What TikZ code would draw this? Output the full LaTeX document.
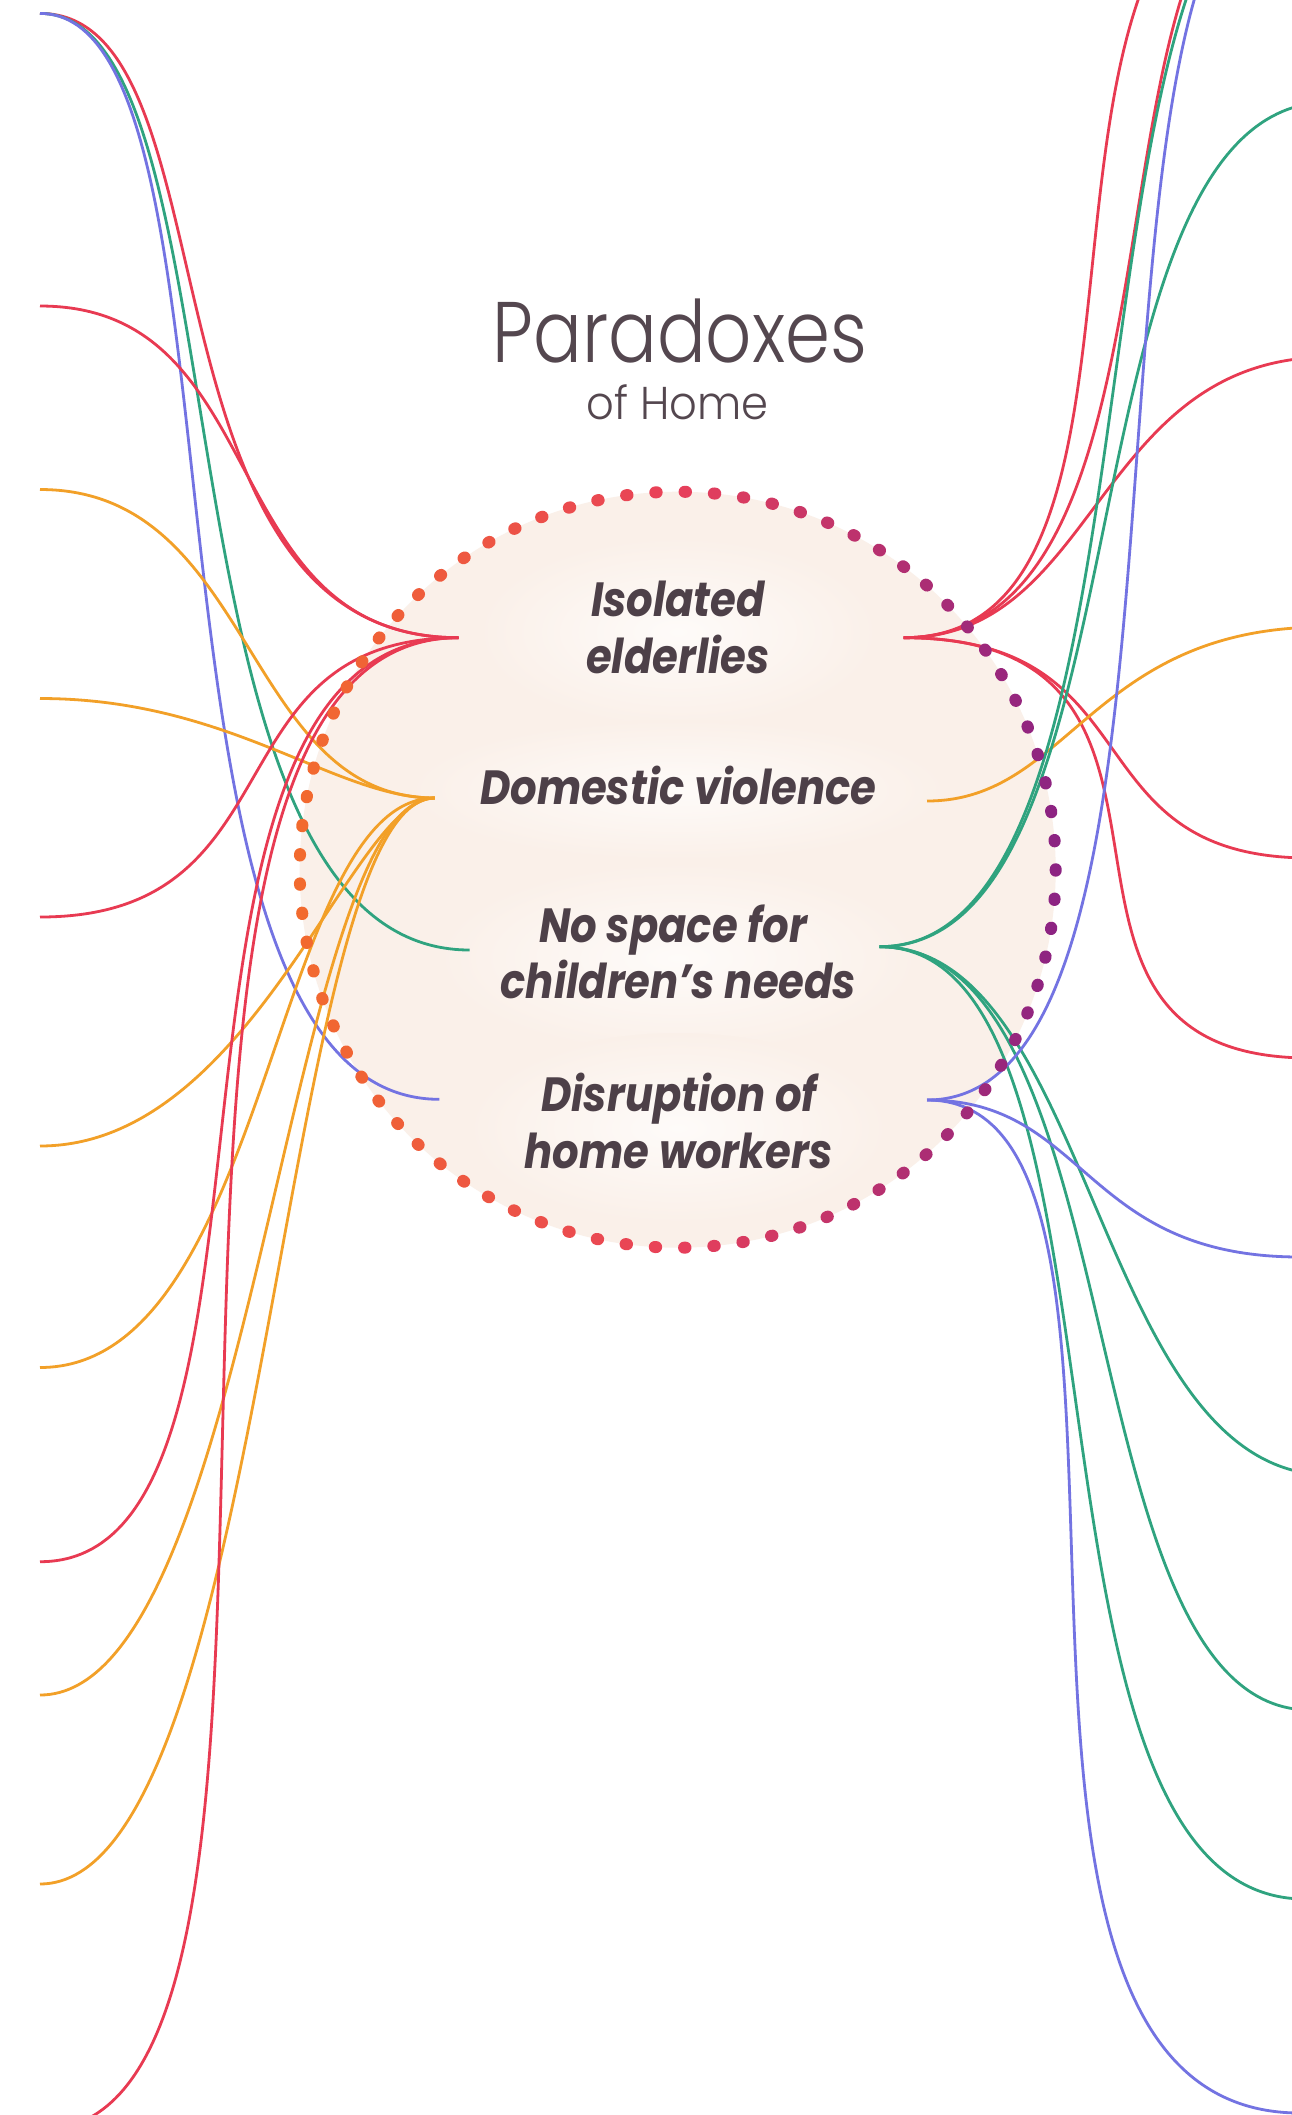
\documentclass[tikz,border=0pt]{standalone}
\usepackage{fontspec}
\newfontfamily\titlefont{Poppins Light}[FakeStretch=0.84]
\newfontfamily\subtitlefont{Poppins Light}[FakeStretch=0.94]
\newfontfamily\themefont{Poppins Bold Italic}[FakeStretch=0.87]
\definecolor{ink}{HTML}{4D4048}
\definecolor{titleink}{HTML}{54474F}
\definecolor{linkred}{HTML}{E83A52}
\definecolor{linkorange}{HTML}{F2A028}
\definecolor{linkgreen}{HTML}{2FA37F}
\definecolor{linkblue}{HTML}{7373E2}
\definecolor{circfill}{HTML}{FAF0E9}
\definecolor{halo}{HTML}{FEFBF9}
\definecolor{dotL}{HTML}{F26A2E}
\definecolor{dotM}{HTML}{E8405A}
\definecolor{dotR}{HTML}{8C2382}
\begin{document}
\begin{tikzpicture}[x=1pt,y=-1pt,
  link/.style={line width=2.8pt},
  redlink/.style={link,draw=linkred},
  orangelink/.style={link,draw=linkorange},
  greenlink/.style={link,draw=linkgreen},
  bluelink/.style={link,draw=linkblue},
  themetext/.style={font=\themefont\fontsize{48}{50}\selectfont,text=ink,anchor=base,inner sep=0pt},
]
\useasboundingbox (0,0) rectangle (1292,2115);
\clip (0,0) rectangle (1292,2115);
\fill[white] (0,0) rectangle (1292,2115);

% the home disc with soft light behind each theme
\fill[circfill] (677.7,869.7) circle (378);
\shade[inner color=halo,outer color=circfill] (678,632) ellipse (200 and 95);
\shade[inner color=halo,outer color=circfill] (678,790) ellipse (270 and 70);
\shade[inner color=halo,outer color=circfill] (678,958) ellipse (240 and 95);
\shade[inner color=halo,outer color=circfill] (678,1128) ellipse (210 and 95);

% anchors of the four themes
\coordinate (iL) at (458.5,637.7);
\coordinate (iR) at (903.6,637.7);
\coordinate (dL) at (434.8,798);
\coordinate (dR) at (927,801);
\coordinate (nL) at (469.6,950);
\coordinate (nR) at (879.5,946.7);
\coordinate (hL) at (439.3,1099.3);
\coordinate (hR) at (927,1100);

% outer ends on the left
\coordinate (L1) at (40,13.4);
\coordinate (L2) at (40,306);
\coordinate (L3) at (40,489.5);
\coordinate (L4) at (40,698.5);
\coordinate (L5) at (40,917);
\coordinate (L6) at (40,1146);
\coordinate (L7) at (40,1367.5);
\coordinate (L8) at (40,1561.7);
\coordinate (L9) at (40,1695);
\coordinate (L10) at (40,1884);
\coordinate (L11) at (40,2130);

% outer ends on the right
\coordinate (Rtop) at (1320,-150);
\coordinate (R1) at (1330,102);
\coordinate (R2) at (1330,357);
\coordinate (R3) at (1325,627);
\coordinate (R4) at (1310,858);
\coordinate (R5) at (1310,1058);
\coordinate (R6) at (1300,1257);
\coordinate (R7) at (1330,1475);
\coordinate (R8) at (1310,1710);
\coordinate (R9) at (1305,1899);
\coordinate (R10) at (1300,2113);

% left links
\draw[redlink] (L1) .. controls +(200,0) and +(-330,0) .. (iL);
\draw[greenlink] (L1) .. controls +(213,0) and +(-327,0) .. (nL);
\draw[bluelink] (L1) .. controls +(224,0) and +(-326,0) .. (hL);
\draw[redlink] (L2) .. controls +(236,0) and +(-246,0) .. (iL);
\draw[orangelink] (L3) .. controls +(215,0) and +(-192,0) .. (dL);
\draw[orangelink] (L4) .. controls +(190,0) and +(-100,0) .. (dL);
\draw[redlink] (L5) .. controls +(262,0) and +(-251,0) .. (iL);
\draw[orangelink] (L6) .. controls +(213,0) and +(-82,0) .. (dL);
\draw[orangelink] (L7) .. controls +(230,0) and +(-162,0) .. (dL);
\draw[redlink] (L8) .. controls +(281,0) and +(-346,0) .. (iL);
\draw[orangelink] (L9) .. controls +(214,0) and +(-148,0) .. (dL);
\draw[orangelink] (L10) .. controls +(229,0) and +(-155,0) .. (dL);
\draw[redlink] (L11) .. controls +(346,0) and +(-414,0) .. (iL);

% right links
\draw[redlink] (iR) .. controls +(310,0) and +(-356,0) .. (Rtop);
\draw[redlink] (iR) .. controls +(315,0) and +(-260,0) .. (Rtop);
\draw[redlink] (iR) .. controls +(195,0) and +(-235,0) .. (R2);
\draw[redlink] (iR) .. controls +(255,0) and +(-242,0) .. (R4);
\draw[redlink] (iR) .. controls +(349,0) and +(-327,0) .. (R5);
\draw[orangelink] (dR) .. controls +(143,0) and +(-234,0) .. (R3);
\draw[greenlink] (nR) .. controls +(305,0) and +(-272,0) .. (Rtop);
\draw[greenlink] (nR) .. controls +(276,0) and +(-277,0) .. (R1);
\draw[greenlink] (nR) .. controls +(215,0) and +(-235,0) .. (R7);
\draw[greenlink] (nR) .. controls +(257,0) and +(-244,0) .. (R8);
\draw[greenlink] (nR) .. controls +(272,0) and +(-308,0) .. (R9);
\draw[bluelink] (hR) .. controls +(317,0) and +(-285,0) .. (Rtop);
\draw[bluelink] (hR) .. controls +(161,0) and +(-218,0) .. (R6);
\draw[bluelink] (hR) .. controls +(283,0) and +(-390,0) .. (R10);

% dotted rim, orange on the left through red to purple on the right
\foreach \k in {0,...,80} {
  \pgfmathsetmacro\ang{88.85+\k*4.44444}
  \pgfmathsetmacro\u{cos(\ang)}
  \pgfmathsetmacro\pl{max(0,-\u)*100}
  \pgfmathsetmacro\pr{max(0,\u)*100}
  \ifdim\u pt<0pt \colorlet{dotc}{dotL!\pl!dotM}\else\colorlet{dotc}{dotR!\pr!dotM}\fi
  \pgfmathsetmacro\ax{677.7+378*cos(\ang)-0.7*sin(\ang)}
  \pgfmathsetmacro\ay{869.7-378*sin(\ang)-0.7*cos(\ang)}
  \pgfmathsetmacro\bx{677.7+378*cos(\ang)+0.7*sin(\ang)}
  \pgfmathsetmacro\by{869.7-378*sin(\ang)+0.7*cos(\ang)}
  \draw[dotc,line width=12pt,line cap=round] (\ax,\ay) -- (\bx,\by);
}

% title
\node[font=\titlefont\fontsize{86}{90}\selectfont,text=titleink,anchor=base,inner sep=0pt] (title) at (680,362.3) {Paradoxes};
\node[font=\subtitlefont\fontsize{46}{50}\selectfont,text=titleink,anchor=base,inner sep=0pt] (subtitle) at (677.6,419) {of Home};

% themes
\node[themetext] (iso1) at (678,616.7) {Isolated};
\node[themetext] (iso2) at (678,673) {elderlies};
\node[themetext] (dv) at (678.4,804) {Domestic violence};
\node[themetext] (ns1) at (673,942.7) {No space for};
\node[themetext] (ns2) at (678.4,998) {children’s needs};
\node[themetext] (dh1) at (679,1111) {Disruption of};
\node[themetext] (dh2) at (678.5,1168) {home workers};
\end{tikzpicture}
\end{document}
